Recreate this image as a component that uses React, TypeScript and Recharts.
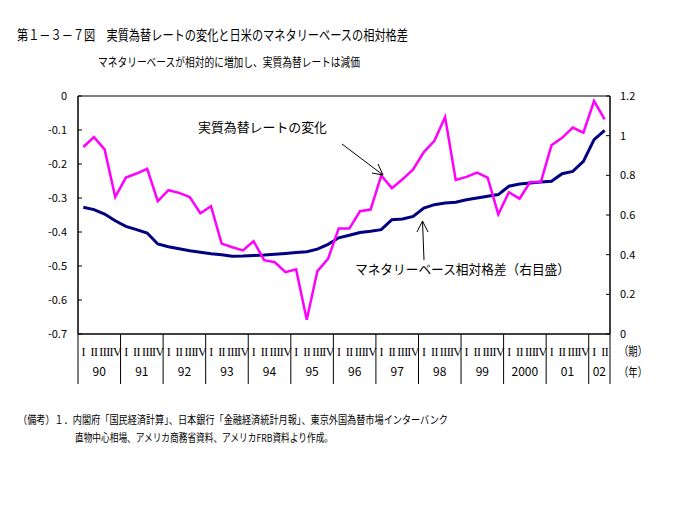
import React from 'react'
import { LineChart, Line, XAxis, YAxis, ReferenceArea } from 'recharts'

// quarter labels and years (1990 Q1 - 2002 Q2)
const quarterNames = ['I', 'II', 'III', 'IV']
const years = ['90', '91', '92', '93', '94', '95', '96', '97', '98', '99', '2000', '01', '02']
const quartersPerYear = [4, 4, 4, 4, 4, 4, 4, 4, 4, 4, 4, 4, 2]

// 実質為替レートの変化 (left axis)
const realRate = [
  -0.150, -0.121, -0.157, -0.297,
  -0.240, -0.228, -0.214, -0.309,
  -0.277, -0.285, -0.297, -0.345,
  -0.324, -0.434, -0.445, -0.454,
  -0.427, -0.483, -0.489, -0.518,
  -0.510, -0.658, -0.515, -0.479,
  -0.390, -0.390, -0.339, -0.334,
  -0.234, -0.271, -0.245, -0.216,
  -0.165, -0.132, -0.062, -0.247,
  -0.238, -0.225, -0.240, -0.348,
  -0.283, -0.302, -0.253, -0.253,
  -0.145, -0.123, -0.093, -0.108,
  -0.015, -0.069,
]

// マネタリーベース相対格差 (right axis)
const baseGap = [
  0.639, 0.627, 0.605, 0.571,
  0.543, 0.526, 0.509, 0.454,
  0.440, 0.430, 0.420, 0.412,
  0.405, 0.400, 0.392, 0.393,
  0.396, 0.398, 0.402, 0.406,
  0.411, 0.415, 0.428, 0.452,
  0.485, 0.498, 0.512, 0.518,
  0.526, 0.576, 0.580, 0.593,
  0.635, 0.652, 0.660, 0.664,
  0.677, 0.686, 0.694, 0.703,
  0.745, 0.756, 0.761, 0.766,
  0.770, 0.808, 0.820, 0.870,
  0.980, 1.027,
]

const leftTicks = [0, -0.1, -0.2, -0.3, -0.4, -0.5, -0.6, -0.7]
const rightTicks = [1.2, 1, 0.8, 0.6, 0.4, 0.2, 0]

const data = realRate.map((v, i) => ({ x: i + 0.5, rate: v, gap: baseGap[i] }))

// x ticks: year separators, year centres, quarter centres
const tickInfo = new Map<number, { kind: string; label: string }>()
let pos = 0
years.forEach((y, yi) => {
  const n = quartersPerYear[yi]
  tickInfo.set(pos, { kind: 'sep', label: '' })
  for (let q = 0; q < n; q++) tickInfo.set(pos + q + 0.5, { kind: 'q', label: quarterNames[q] })
  tickInfo.set(pos + n / 2, { kind: 'year', label: y })
  pos += n
})
tickInfo.set(pos, { kind: 'sep', label: '' })
const totalQ = pos
const xTicks = Array.from(tickInfo.keys()).sort((a, b) => a - b)

const JP = '"Noto Sans CJK JP", sans-serif'

const XTick = ({ x, y, payload }: any) => {
  const info = tickInfo.get(payload.value)
  if (!info) return <g />
  if (info.kind === 'sep') return <line x1={x} x2={x} y1={y} y2={y + 50} stroke="#000" />
  if (info.kind === 'q')
    return (
      <text x={x} y={y + 22} textAnchor="middle" fontFamily='"Liberation Serif", serif' fontSize={12} letterSpacing={-0.5} fill="#000">
        {info.label}
      </text>
    )
  return (
    <text x={x} y={y + 42} textAnchor="middle" fontFamily={JP} fontSize={12} fill="#000">
      {info.label}
    </text>
  )
}

const LeftTick = ({ x, y, payload }: any) => (
  <g>
    <line x1={x} x2={x + 4} y1={y} y2={y} stroke="#000" />
    <text x={x - 11} y={y + 4} textAnchor="end" fontFamily={JP} fontSize={11} fill="#000">
      {payload.value === 0 ? '0' : Number(payload.value).toFixed(1)}
    </text>
  </g>
)

const RightTick = ({ x, y, payload }: any) => (
  <g>
    <line x1={x - 4} x2={x} y1={y} y2={y} stroke="#000" />
    <text x={x + 10} y={y + 4} textAnchor="start" fontFamily={JP} fontSize={11} fill="#000">
      {String(Math.round(payload.value * 10) / 10)}
    </text>
  </g>
)

export default function App() {
  return (
    <div style={{ position: 'absolute', left: 0, top: 0, width: 700, height: 530, background: '#fff' }}>
      <LineChart width={700} height={530} data={data} margin={{ top: 96, right: 0, bottom: 136, left: 0 }}>
        <XAxis
          type="number"
          dataKey="x"
          domain={[0, totalQ]}
          ticks={xTicks}
          interval={0}
          tickSize={0}
          tickMargin={0}
          height={60}
          axisLine={{ stroke: '#000' }}
          tickLine={false}
          tick={(p: any) => <XTick {...p} />}
        />
        <YAxis
          yAxisId="left"
          domain={[-0.7, 0]}
          ticks={leftTicks}
          interval={0}
          width={78}
          tickSize={0}
          tickMargin={0}
          tickLine={false}
          axisLine={{ stroke: '#000' }}
          tick={(p: any) => <LeftTick {...p} />}
        />
        <YAxis
          yAxisId="right"
          orientation="right"
          domain={[0, 1.2]}
          ticks={rightTicks}
          interval={0}
          width={90}
          tickSize={0}
          tickMargin={0}
          tickLine={false}
          axisLine={{ stroke: '#000' }}
          tick={(p: any) => <RightTick {...p} />}
        />
        <ReferenceArea
          yAxisId="left"
          x1={0}
          x2={totalQ}
          y1={-0.7}
          y2={0}
          fill="none"
          fillOpacity={0}
          stroke="#000"
          strokeOpacity={1}
          ifOverflow="visible"
        />
        <Line yAxisId="right" dataKey="gap" stroke="#000080" strokeWidth={3} dot={false} isAnimationActive={false} />
        <Line yAxisId="left" dataKey="rate" stroke="#FF00FF" strokeWidth={2.5} dot={false} isAnimationActive={false} />
      </LineChart>
      <svg width={700} height={530} style={{ position: 'absolute', left: 0, top: 0, pointerEvents: 'none' }}>
        <g fontFamily={JP} fill="#000">
          <text x={17} y={40} fontSize={14} textLength={391} lengthAdjust="spacingAndGlyphs">
            第１－３－７図　実質為替レートの変化と日米のマネタリーベースの相対格差
          </text>
          <text x={98} y={67} fontSize={12} textLength={262} lengthAdjust="spacingAndGlyphs">
            マネタリーベースが相対的に増加し、実質為替レートは減価
          </text>
          <text x={198} y={132} fontSize={13} textLength={129} lengthAdjust="spacingAndGlyphs">
            実質為替レートの変化
          </text>
          <text x={355} y={274} fontSize={13} textLength={215} lengthAdjust="spacingAndGlyphs">
            マネタリーベース相対格差（右目盛）
          </text>
          <text x={619} y={356} fontSize={12} textLength={28} lengthAdjust="spacingAndGlyphs">
            （期）
          </text>
          <text x={619} y={377} fontSize={12} textLength={28} lengthAdjust="spacingAndGlyphs">
            （年）
          </text>
          <text x={18} y={424} fontSize={11} textLength={430} lengthAdjust="spacingAndGlyphs">
            （備考）１．内閣府「国民経済計算」、日本銀行「金融経済統計月報」、東京外国為替市場インターバンク
          </text>
          <text x={75} y={442} fontSize={11} textLength={258} lengthAdjust="spacingAndGlyphs">
            直物中心相場、アメリカ商務省資料、アメリカFRB資料より作成。
          </text>
        </g>
        <g stroke="#000" strokeWidth={1} fill="none">
          <line x1={342} y1={144} x2={383} y2={175} />
          <polyline points="378,164 383,175 372,173" />
          <line x1={424} y1={260} x2={422.5} y2={221} />
          <polyline points="417,232 422.5,221 428,232" />
        </g>
      </svg>
    </div>
  )
}
